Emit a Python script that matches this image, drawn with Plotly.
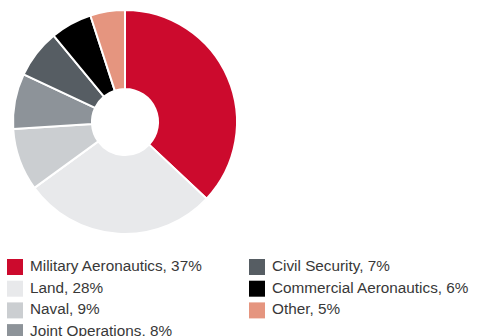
import plotly.graph_objects as go

categories = ["Military Aeronautics", "Land", "Naval", "Joint Operations",
              "Civil Security", "Commercial Aeronautics", "Other"]
values = [37, 28, 9, 8, 7, 6, 5]
colors = ["#CC0a2d", "#E8E9EB", "#CBCED1", "#8D9399", "#565D63", "#000000", "#E5957F"]

W, H = 486, 336
fig = go.Figure()
fig.add_trace(go.Pie(
    labels=categories, values=values, sort=False, direction="clockwise", rotation=0,
    hole=0.295, marker=dict(colors=colors, line=dict(color="white", width=2)),
    textinfo="none", hoverinfo="label+percent", showlegend=False,
    domain=dict(x=[13 / W, 237 / W], y=[(H - 234) / H, (H - 10) / H]),
))

# legend built from the data lists
rows = 4
mx, my, tx, ty, txt = [], [], [], [], []
for i, (c, v) in enumerate(zip(categories, values)):
    col, row = divmod(i, rows)
    x0 = 15 + col * 242
    y0 = 267 + row * 21.7
    mx.append(x0); my.append(y0)
    tx.append(x0 + 15); ty.append(y0)
    txt.append(f"{c}, {v}%")

fig.add_trace(go.Scatter(x=mx, y=my, mode="markers", showlegend=False, hoverinfo="skip",
                         marker=dict(symbol="square", size=16, color=colors, line=dict(width=0))))
fig.add_trace(go.Scatter(x=tx, y=ty, mode="text", text=txt, textposition="middle right",
                         showlegend=False, hoverinfo="skip",
                         textfont=dict(family="Liberation Sans", size=15.3, color="#383838")))

fig.update_layout(
    width=W, height=H, margin=dict(l=0, r=0, t=0, b=0),
    paper_bgcolor="white", plot_bgcolor="white",
    xaxis=dict(range=[0, W], visible=False, fixedrange=True),
    yaxis=dict(range=[H, 0], visible=False, fixedrange=True),
)
fig.write_html("out.html", config={"displayModeBar": False},
               post_script="document.body.style.margin='0';document.body.style.overflow='hidden';")
